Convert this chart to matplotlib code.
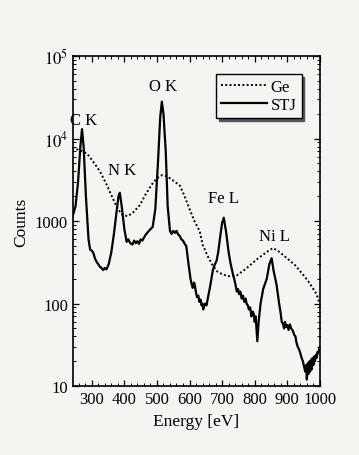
import numpy as np
import matplotlib
matplotlib.use("Agg")
import matplotlib.pyplot as plt
from matplotlib.ticker import FixedLocator, FixedFormatter, LogLocator, MultipleLocator

plt.rcParams['font.family'] = ['Liberation Serif', 'DejaVu Serif']
plt.rcParams['mathtext.fontset'] = 'stix'

# STJ spectrum (solid)
stj_e = [240, 250, 258, 265, 270, 275, 282, 290, 295, 300, 305, 310, 315, 320, 325, 330, 335, 340, 345, 352,
         360, 368, 375, 382, 386, 392, 400, 407, 412, 418, 425, 430, 435, 440, 445, 450, 455, 465, 475,
         487, 495, 503, 510, 515, 520, 527, 533, 540, 545, 550, 555, 560, 565, 570, 575, 580, 585, 590,
         597, 603, 607, 610, 614, 617, 620, 623, 627, 630, 634, 637, 640, 642, 645, 648, 652, 655, 663, 672, 678, 683, 688, 693, 700,
         705, 712, 720, 725, 730, 734, 737, 741, 745, 749, 752, 756, 760, 764, 768, 772, 775, 779, 782, 786, 790, 794, 797, 800, 803, 806, 808,
         812, 818, 826, 837, 845, 852, 858, 867, 875, 880, 883, 886, 890, 893, 897, 900, 904, 908, 912, 917,
         921, 925, 928, 932, 936, 940, 944, 948, 952, 955, 958, 960, 963, 965, 968, 970, 973, 975, 978, 980, 983, 985, 988, 990, 993, 995, 1000]
stj_c = [1100, 1500, 3000, 8000, 13000, 8000, 2000, 600, 450, 440, 410, 350, 320, 300, 280, 270, 255, 270, 260, 300,
         420, 700, 1200, 2000, 2200, 1500, 800, 560, 600, 540, 520, 580, 540, 570, 530, 600, 580, 680, 760,
         850, 1400, 5000, 18000, 28000, 20000, 7000, 1500, 760, 700, 760, 720, 760, 690, 660, 600, 580, 530, 500,
         300, 200, 170, 155, 180, 160, 135, 120, 125, 105, 112, 95, 100, 85, 95, 100, 95, 110, 160, 260, 300, 330, 420, 600, 950,
         1100, 750, 420, 320, 260, 220, 200, 170, 140, 150, 130, 140, 115, 125, 105, 115, 100, 95, 85, 90, 70, 80, 75, 60, 70, 45, 35,
         60, 100, 150, 200, 300, 355, 250, 170, 100, 75, 60, 58, 50, 60, 52, 55, 48, 56, 50, 47,
         42, 40, 34, 30, 28, 25, 22, 20, 17, 15, 18, 12, 19, 14, 20, 15, 21, 16, 22, 18, 23, 20, 24, 22, 26, 25, 30]

# Ge detector spectrum (dotted)
ge_e = [240, 260, 285, 305, 325, 345, 364, 380, 395, 410, 425, 447, 465, 485, 500,
        515, 530, 545, 570, 585, 600, 615, 631, 640, 655, 671, 685, 702, 720, 745,
        765, 785, 805, 825, 840, 856, 870, 890, 908, 925, 948, 965, 980, 990, 1000]
ge_c = [7600, 7300, 6600, 5200, 4000, 2800, 1900, 1400, 1180, 1150, 1250, 1550, 2100, 2800, 3300,
        3600, 3500, 3200, 2700, 2000, 1400, 1000, 760, 520, 380, 290, 245, 225, 215, 220,
        250, 290, 340, 390, 430, 470, 440, 380, 330, 290, 225, 185, 150, 130, 98]

peak_names = ["C K", "N K", "O K", "Fe L", "Ni L"]
peak_e = [275, 392, 520, 705, 860]
peak_c = [17000, 4100, 43000, 1900, 660]

bg = '#f4f4f0'
fig = plt.figure(figsize=(3.59, 4.56), dpi=100, facecolor=bg)
ax = fig.add_axes([0.203, 0.151, 0.688, 0.724], facecolor=bg)

ax.plot(ge_e, ge_c, color='black', linestyle=(0, (1, 1.2)), linewidth=1.4, label='Ge')
ax.plot(stj_e, stj_c, color='black', linestyle='-', linewidth=1.6, label='STJ')

ax.set_yscale('log')
ax.set_xlim(242, 1000)
ax.set_ylim(10, 1e5)

ax.yaxis.set_major_locator(FixedLocator([10, 100, 1000, 1e4, 1e5]))
ax.yaxis.set_major_formatter(FixedFormatter(['10', '100', '1000', r'$10^4$', r'$10^5$']))
ax.yaxis.set_minor_locator(LogLocator(base=10, subs=np.arange(2, 10)))
ax.xaxis.set_major_locator(MultipleLocator(100))
ax.xaxis.set_minor_locator(MultipleLocator(20))

ax.tick_params(which='both', direction='in', top=True, right=True, labelsize=12)
ax.tick_params(which='major', length=4, width=0.9)
ax.tick_params(which='minor', length=2, width=0.7)
for s in ax.spines.values():
    s.set_linewidth(1.2)

for name, e, c in zip(peak_names, peak_e, peak_c):
    ax.text(e, c, name, ha='center', va='center', fontsize=12)

ax.set_xlabel('Energy [eV]', fontsize=12.5)
ax.set_ylabel('Counts', fontsize=12.5)

leg = ax.legend(loc='upper right', fontsize=12, frameon=True, fancybox=False,
                shadow={'color': '#555555', 'alpha': 1}, handlelength=2.8, borderpad=0.3,
                labelspacing=0.1, handletextpad=0.2, bbox_to_anchor=(0.96, 0.97))
leg.get_frame().set_edgecolor('black')
leg.get_frame().set_linewidth(1.0)
leg.get_frame().set_facecolor(bg)

fig.savefig('out.png', dpi=100, facecolor=bg)
